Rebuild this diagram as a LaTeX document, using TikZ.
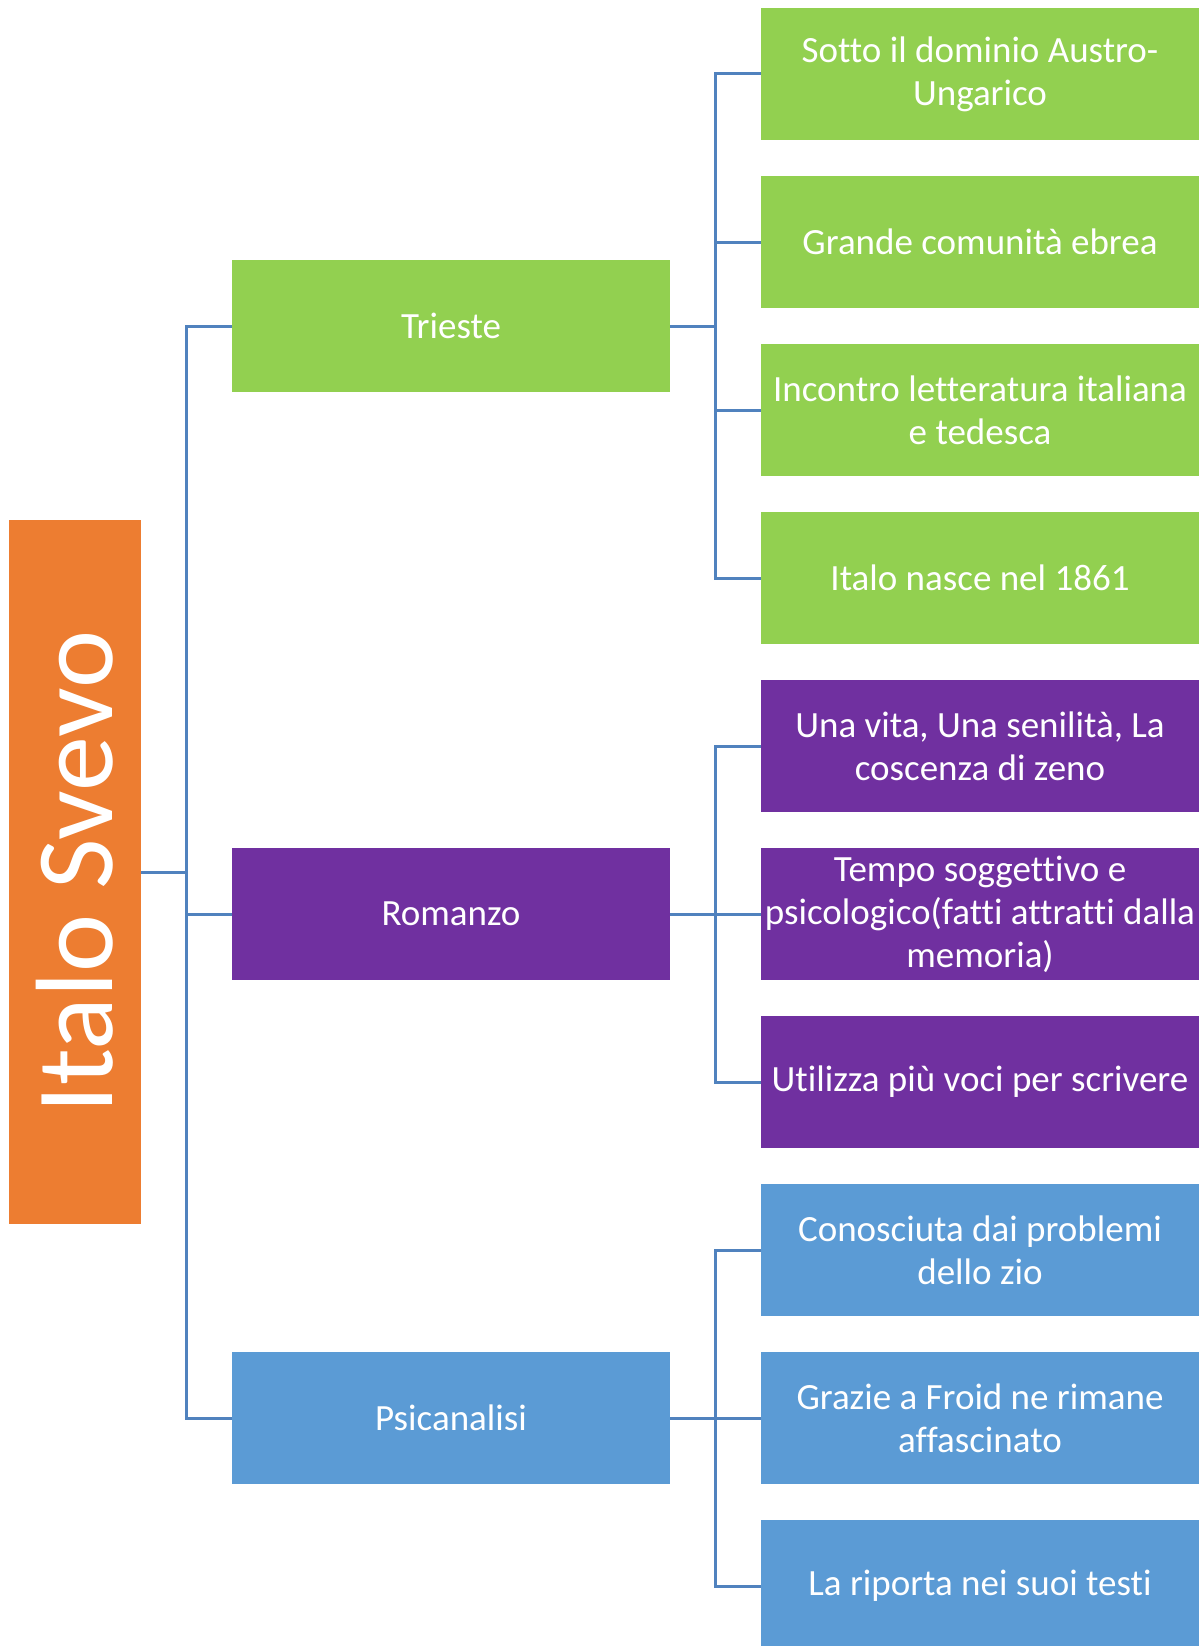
\documentclass[tikz,border=0pt]{standalone}
\usepackage{fontspec}
\setmainfont{Carlito}[Ligatures=NoCommon]
\definecolor{cgreen}{HTML}{92D050}
\definecolor{cpurple}{HTML}{7030A0}
\definecolor{cblue}{HTML}{5B9BD5}
\definecolor{corange}{HTML}{ED7D31}
\definecolor{cline}{RGB}{80,130,190}
\tikzset{
  box/.style={rectangle, inner sep=0pt, minimum width=438pt, minimum height=132pt, align=center, text=white, font=\fontsize{37}{43}\selectfont},
  gbox/.style={box, fill=cgreen},
  pbox/.style={box, fill=cpurple},
  bbox/.style={box, fill=cblue},
  conn/.style={draw=cline, line width=3pt},
}
\begin{document}
\begin{tikzpicture}[x=1pt,y=-1pt]
\clip (0,0) rectangle (1202,1646);
\fill[white] (0,0) rectangle (1202,1646);
% root
\node[rectangle, inner sep=0pt, minimum width=132pt, minimum height=704pt, fill=corange] (root) at (75,872) {};
\node[text=white, rotate=90, font=\fontsize{110}{132}\selectfont, inner sep=0pt] (roottext) at (root.center) {Italo Svevo};
% mid
\node[gbox] (tri) at (451,326) {Trieste};
\node[pbox] (rom) at (451,914) {Romanzo};
\node[bbox] (psi) at (451,1418) {Psicanalisi};
% leaves
\node[gbox] (l1) at (980,74) {Sotto il dominio Austro-\\Ungarico};
\node[gbox] (l2) at (980,242) {Grande comunità ebrea};
\node[gbox] (l3) at (980,410) {Incontro letteratura italiana\\e tedesca};
\node[gbox] (l4) at (980,578) {Italo nasce nel 1861};
\node[pbox] (l5) at (980,746) {Una vita, Una senilità, La\\coscenza di zeno};
\node[pbox] (l6) at (980,914) {Tempo soggettivo e\\psicologico(fatti attratti dalla\\memoria)};
\node[pbox] (l7) at (980,1082) {Utilizza più voci per scrivere};
\node[bbox] (l8) at (980,1250) {Conosciuta dai problemi\\dello zio};
\node[bbox] (l9) at (980,1418) {Grazie a Froid ne rimane\\affascinato};
\node[bbox] (l10) at (980,1586) {La riporta nei suoi testi};
% root connectors
\coordinate (rb) at (186,872);
\draw[conn] (root.east) -- (rb);
\draw[conn] (rb) |- (tri.west);
\draw[conn] (rb) |- (rom.west);
\draw[conn] (rb) |- (psi.west);
% trieste
\coordinate (tb) at (715,326);
\draw[conn] (tri.east) -- (tb);
\foreach \l in {l1,l2,l3,l4} \draw[conn] (tb) |- (\l.west);
% romanzo
\coordinate (ob) at (715,914);
\draw[conn] (rom.east) -- (ob);
\foreach \l in {l5,l6,l7} \draw[conn] (ob) |- (\l.west);
% psicanalisi
\coordinate (pb) at (715,1418);
\draw[conn] (psi.east) -- (pb);
\foreach \l in {l8,l9,l10} \draw[conn] (pb) |- (\l.west);
\end{tikzpicture}
\end{document}
